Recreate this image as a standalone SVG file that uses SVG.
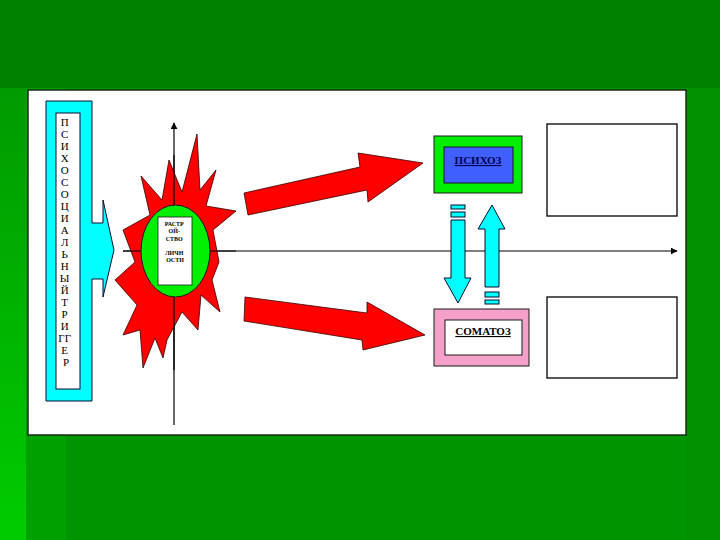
<svg xmlns="http://www.w3.org/2000/svg" width="720" height="540" viewBox="0 0 720 540">
  <defs>
    <linearGradient id="leftStripe" x1="0" y1="0" x2="0" y2="1">
      <stop offset="0" stop-color="#009a00"/>
      <stop offset="0.6" stop-color="#00b800"/>
      <stop offset="1" stop-color="#00cc00"/>
    </linearGradient>
    <marker id="axisHead" viewBox="0 0 10 10" refX="9" refY="5" markerWidth="7" markerHeight="7" orient="auto" markerUnits="userSpaceOnUse">
      <path d="M0,0 L10,5 L0,10 Z" fill="#000"/>
    </marker>
    <style>
      .red { fill: #ff0000; stroke: #330000; stroke-width: 0.8; }
      .cyan { fill: #00ffff; stroke: #0a0a30; stroke-width: 1; }
      .axis { stroke: #000; stroke-width: 1.2; fill: none; }
      .vt { font-family: "Liberation Serif", "DejaVu Serif", serif; font-size: 11px; fill: #000; text-anchor: middle; }
      .tiny { font-family: "Liberation Serif", "DejaVu Serif", serif; font-size: 6px; font-weight: bold; fill: #000; text-anchor: middle; }
      .lbl { font-family: "Liberation Serif", "DejaVu Serif", serif; font-size: 11px; font-weight: bold; text-decoration: underline; text-anchor: middle; }
    </style>
  </defs>

  <!-- background -->
  <rect x="0" y="0" width="720" height="540" fill="#009400"/>
  <rect x="0" y="0" width="720" height="88" fill="#007f00"/>
  <rect x="0" y="88" width="26" height="452" fill="url(#leftStripe)"/>
  <rect x="26" y="88" width="40" height="452" fill="#00a000"/>
  <rect x="686" y="88" width="34" height="452" fill="#009000"/>

  <!-- panel -->
  <rect x="28" y="90" width="658" height="345" fill="#ffffff" stroke="#1a2a1a" stroke-width="1.5"/>

  <!-- connectors: axes -->
  <g id="connectors">
    <line class="axis" x1="123" y1="251" x2="677" y2="251" marker-end="url(#axisHead)"/>
    <line class="axis" x1="174" y1="425" x2="174" y2="123" marker-end="url(#axisHead)"/>
  </g>

  <!-- trigger -->
  <g id="trigger">
    <polygon class="cyan" points="46,101 92,101 92,223 103,223 103,200 114,250 103,297 103,279 92,279 92,401 46,401"/>
    <rect x="56" y="113" width="24" height="276" fill="#ffffff" stroke="#0a0a30" stroke-width="1"/>
    <text class="vt">
      <tspan x="66" y="126">П</tspan>
      <tspan x="66" y="138">С</tspan>
      <tspan x="66" y="150">И</tspan>
      <tspan x="66" y="162">Х</tspan>
      <tspan x="66" y="174">О</tspan>
      <tspan x="66" y="186">С</tspan>
      <tspan x="66" y="198">О</tspan>
      <tspan x="66" y="210">Ц</tspan>
      <tspan x="66" y="222">И</tspan>
      <tspan x="66" y="234">А</tspan>
      <tspan x="66" y="246">Л</tspan>
      <tspan x="66" y="258">Ь</tspan>
      <tspan x="66" y="270">Н</tspan>
      <tspan x="66" y="282">Ы</tspan>
      <tspan x="66" y="294">Й</tspan>
      <tspan x="66" y="306">Т</tspan>
      <tspan x="66" y="318">Р</tspan>
      <tspan x="66" y="330">И</tspan>
      <tspan x="66" y="342">ГГ</tspan>
      <tspan x="66" y="354">Е</tspan>
      <tspan x="66" y="366">Р</tspan>
    </text>
  </g>

  <!-- personality disorder star -->
  <g id="disorder">
    <polygon class="red" points="197,134 200,190 216,170 206,206 236,211 213,230 219,262 212,280 220,312 201,295 198,330 182,312 167,340 163,358 155,338 143,368 140,330 123,335 137,305 115,280 135,262 123,230 150,215 141,176 162,200 169,160 182,192"/>
    <line class="axis" x1="174" y1="155" x2="174" y2="370"/>
    <line class="axis" x1="123" y1="251" x2="236" y2="251"/>
    <ellipse cx="175.5" cy="251" rx="34.5" ry="46" fill="#00ee00" stroke="#1a1a1a" stroke-width="1"/>
    <rect x="158" y="217" width="34" height="68" fill="#ffffff" stroke="#1a1a1a" stroke-width="0.8"/>
    <text class="tiny">
      <tspan x="175" y="226">РАСТР</tspan>
      <tspan x="175" y="233">ОЙ-</tspan>
      <tspan x="175" y="241">СТВО</tspan>
      <tspan x="175" y="255">ЛИЧН</tspan>
      <tspan x="175" y="262">ОСТИ</tspan>
    </text>
  </g>

  <!-- red arrows -->
  <g id="arrow-up">
    <polygon class="red" points="244,193 360,167 358,153 423,163 368,202 367,190 248,215"/>
  </g>
  <g id="arrow-down">
    <polygon class="red" points="245,297 367,313 367,302 425,335 363,350 362,340 244,321"/>
  </g>

  <!-- psychosis -->
  <g id="psychosis">
    <rect x="434" y="136" width="88" height="57" fill="#00ee00" stroke="#1a1a1a" stroke-width="1"/>
    <rect x="444" y="147" width="69" height="36" fill="#3f5fff" stroke="#1a1a1a" stroke-width="1"/>
    <text class="lbl" x="478" y="164" fill="#000050">ПСИХОЗ</text>
  </g>

  <!-- somatosis -->
  <g id="somatosis">
    <rect x="434" y="309" width="95" height="57" fill="#f4a0c8" stroke="#1a1a1a" stroke-width="1"/>
    <rect x="445" y="320" width="77" height="35" fill="#ffffff" stroke="#1a1a1a" stroke-width="1"/>
    <text class="lbl" x="483" y="335" fill="#000">СОМАТОЗ</text>
  </g>

  <!-- cyan vertical arrows -->
  <g id="arrow-psy-to-som">
    <rect class="cyan" x="451" y="205" width="14" height="4"/>
    <rect class="cyan" x="451" y="212" width="14" height="5"/>
    <polygon class="cyan" points="451,220 465,220 465,278 471,278 458,303 444,278 451,278"/>
  </g>
  <g id="arrow-som-to-psy">
    <polygon class="cyan" points="492,205 505,229 499,229 499,287 485,287 485,229 478,229"/>
    <rect class="cyan" x="485" y="292" width="14" height="5"/>
    <rect class="cyan" x="485" y="300" width="14" height="4"/>
  </g>

  <!-- empty right boxes -->
  <g id="box-top">
    <rect x="547" y="124" width="130" height="92" fill="#ffffff" stroke="#000" stroke-width="1.3"/>
  </g>
  <g id="box-bottom">
    <rect x="547" y="297" width="130" height="81" fill="#ffffff" stroke="#000" stroke-width="1.3"/>
  </g>
</svg>
